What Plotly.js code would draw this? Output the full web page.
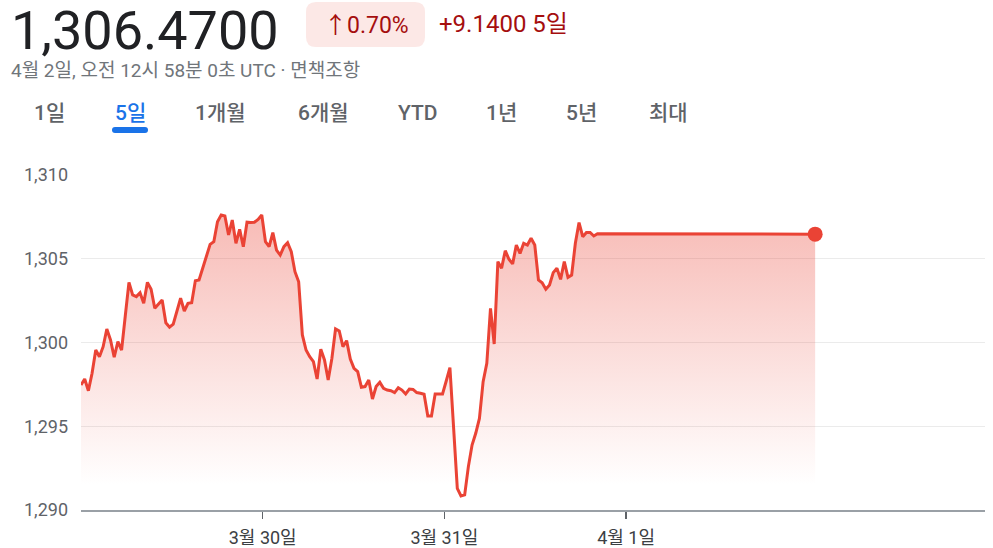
<!DOCTYPE html>
<html>
<head>
<meta charset="utf-8">
<script src="https://cdn.plot.ly/plotly-3.0.1.min.js"></script>
<style>
  html, body { margin: 0; padding: 0; background: #fff; }
  #chart { width: 993px; height: 548px; }
</style>
</head>
<body>
<div id="chart"></div>
<script>
// ---------- data ----------
const startTime = '2024-03-29 00:00';
const lastTime = '2024-04-02 00:58';
const pointsPerSeries = 200;      // sampling points across the period
const prices = [
  1297.46, 1297.82, 1297.12, 1298.16, 1299.55, 1299.15, 1299.75, 1300.81, 1300.15, 1299.12,
  1300.05, 1299.55, 1301.58, 1303.59, 1302.84, 1302.74, 1302.97, 1302.34, 1303.59, 1303.18,
  1302.04, 1302.30, 1302.54, 1301.18, 1300.91, 1301.09, 1301.94, 1302.64, 1301.88, 1302.34,
  1302.38, 1303.69, 1303.73, 1304.43, 1305.12, 1305.86, 1306.02, 1307.21, 1307.61, 1307.55,
  1306.42, 1307.31, 1305.92, 1306.76, 1305.72, 1307.18, 1307.16, 1307.18, 1307.35, 1307.61,
  1306.02, 1305.72, 1306.56, 1305.52, 1305.22, 1305.72, 1305.96, 1305.42, 1304.23, 1303.63,
  1300.45, 1299.55, 1299.15, 1298.86, 1297.82, 1299.60, 1298.96, 1297.76, 1299.05, 1300.81,
  1300.69, 1299.75, 1300.11, 1299.01, 1298.46, 1298.26, 1297.33, 1297.37, 1297.76, 1296.63,
  1297.37, 1297.62, 1297.27, 1297.16, 1297.12, 1297.01, 1297.30, 1297.16, 1296.93, 1297.22,
  1297.20, 1297.01, 1296.97, 1296.91, 1295.61, 1295.61, 1296.93, 1296.93, 1296.93, 1297.70,
  1298.50, 1294.90, 1291.29, 1290.84, 1290.90, 1292.59, 1293.88, 1294.58, 1295.47, 1297.66,
  1298.76, 1302.04, 1299.91, 1304.83, 1304.43, 1305.48, 1304.97, 1304.69, 1305.82, 1305.32,
  1305.92, 1305.82, 1306.22, 1305.82, 1303.73, 1303.57, 1303.18, 1303.43, 1304.17, 1304.43,
  1303.77, 1304.83, 1303.89, 1304.03, 1305.92, 1307.16, 1306.32, 1306.57, 1306.57, 1306.36,
  1306.50
];
const lastPrice = 1306.47;
const xTickVals = ['2024-03-30', '2024-03-31', '2024-04-01'];
const xTickText = ['3월 30일', '3월 31일', '4월 1일'];
const yTickVals = [1290, 1295, 1300, 1305, 1310];
const axisEnd = '2024-04-02 23:24';

const headline = '1,306.4700';
const changePct = '↑0.70%';
const changeAbs = '+9.1400 5일';
const subtitle = '4월 2일, 오전 12시 58분 0초 UTC · 면책조항';
const tabs = ['1일', '5일', '1개월', '6개월', 'YTD', '1년', '5년', '최대'];
const activeTab = '5일';

// ---------- build times ----------
function toMs(s) { return Date.parse(s.replace(' ', 'T') + ':00Z'); }
function toStr(ms) { return new Date(ms).toISOString().replace('T', ' ').slice(0, 19); }
const t0 = toMs(startTime), tEnd = toMs(lastTime);
const step = (tEnd - t0) / (pointsPerSeries - 1);
const times = prices.map((_, i) => toStr(t0 + i * step));
times.push(toStr(tEnd));
const values = prices.concat([lastPrice]);

// ---------- layout helpers ----------
const W = 993, H = 548, ML = 81, MR = 8, MT = 175, MB = 38;
const PW = W - ML - MR, PH = H - MT - MB;
const X = px => (px - ML) / PW;
const Y = py => (H - MB - py) / PH;
const FONT = 'Roboto, "Noto Sans CJK KR", "Noto Sans", sans-serif';
const RED = '#ea4335';

function roundRect(x0, y0, x1, y1, r) {
  const p = (x, y) => X(x) + ',' + Y(y);
  return 'M' + p(x0 + r, y0) + ' L' + p(x1 - r, y0) + ' Q' + p(x1, y0) + ' ' + p(x1, y0 + r) +
    ' L' + p(x1, y1 - r) + ' Q' + p(x1, y1) + ' ' + p(x1 - r, y1) +
    ' L' + p(x0 + r, y1) + ' Q' + p(x0, y1) + ' ' + p(x0, y1 - r) +
    ' L' + p(x0, y0 + r) + ' Q' + p(x0, y0) + ' ' + p(x0 + r, y0) + ' Z';
}

const tabCenters = [49, 130, 220, 323, 418, 501, 581, 668];

const annotations = [
  { text: headline, x: X(9), y: Y(30), xanchor: 'left', yanchor: 'middle',
    font: { family: FONT, size: 54, color: '#202124' } },
  { text: changePct, x: X(366), y: Y(25), xanchor: 'center', yanchor: 'middle',
    font: { family: FONT, size: 23, color: '#a50e0e' } },
  { text: changeAbs, x: X(437), y: Y(24), xanchor: 'left', yanchor: 'middle',
    font: { family: FONT, size: 24, color: '#a50e0e' } },
  { text: subtitle, x: X(9), y: Y(71), xanchor: 'left', yanchor: 'middle',
    font: { family: FONT, size: 19, color: '#70757a' } }
];
tabs.forEach((t, i) => {
  annotations.push({ text: t, x: X(tabCenters[i]), y: Y(113), xanchor: 'center', yanchor: 'middle',
    font: { family: FONT, size: 21, weight: 500, color: t === activeTab ? '#1a73e8' : '#5f6368' } });
});
annotations.forEach(a => { a.xref = 'paper'; a.yref = 'paper'; a.showarrow = false; });

const shapes = [
  { type: 'path', xref: 'paper', yref: 'paper', path: roundRect(306, 2, 425, 47, 10),
    fillcolor: '#fce8e6', line: { width: 0 }, layer: 'below' },
  { type: 'path', xref: 'paper', yref: 'paper', path: roundRect(112, 127, 148, 133, 3),
    fillcolor: '#1a73e8', line: { width: 0 } }
];

const traces = [
  { x: times, y: values, type: 'scatter', mode: 'lines',
    line: { color: RED, width: 3 },
    fill: 'tozeroy',
    fillgradient: { type: 'vertical', start: 1291.5, stop: 1307.6,
      colorscale: [[0, 'rgba(234,67,53,0)'], [1, 'rgba(234,67,53,0.36)']] },
    hoverinfo: 'skip' },
  { x: [times[times.length - 1]], y: [values[values.length - 1]], type: 'scatter', mode: 'markers',
    marker: { color: RED, size: 15 }, cliponaxis: false, hoverinfo: 'skip' }
];

const layout = {
  width: W, height: H,
  margin: { l: ML, r: MR, t: MT, b: MB, pad: 0 },
  paper_bgcolor: '#fff', plot_bgcolor: '#fff',
  showlegend: false,
  xaxis: {
    type: 'date', range: [startTime, axisEnd],
    tickvals: xTickVals, ticktext: xTickText,
    ticks: 'outside', ticklen: 7, tickwidth: 1.5, tickcolor: '#5f6368',
    ticklabelstandoff: 4,
    showgrid: false, zeroline: false,
    showline: true, linecolor: '#9aa0a6', linewidth: 1.5,
    tickfont: { family: FONT, size: 18, color: '#3c4043' },
    fixedrange: true
  },
  yaxis: {
    range: [1290, 1310], tickvals: yTickVals, tickformat: ',d',
    showgrid: true, gridcolor: '#ebebeb', gridwidth: 1,
    zeroline: false, showline: false, ticks: '',
    ticklabelstandoff: 12,
    tickfont: { family: FONT, size: 18, color: '#5f6368' },
    fixedrange: true
  },
  annotations: annotations,
  shapes: shapes,
  hovermode: false
};

Plotly.newPlot('chart', traces, layout, { displayModeBar: false, staticPlot: true });
</script>
</body>
</html>
